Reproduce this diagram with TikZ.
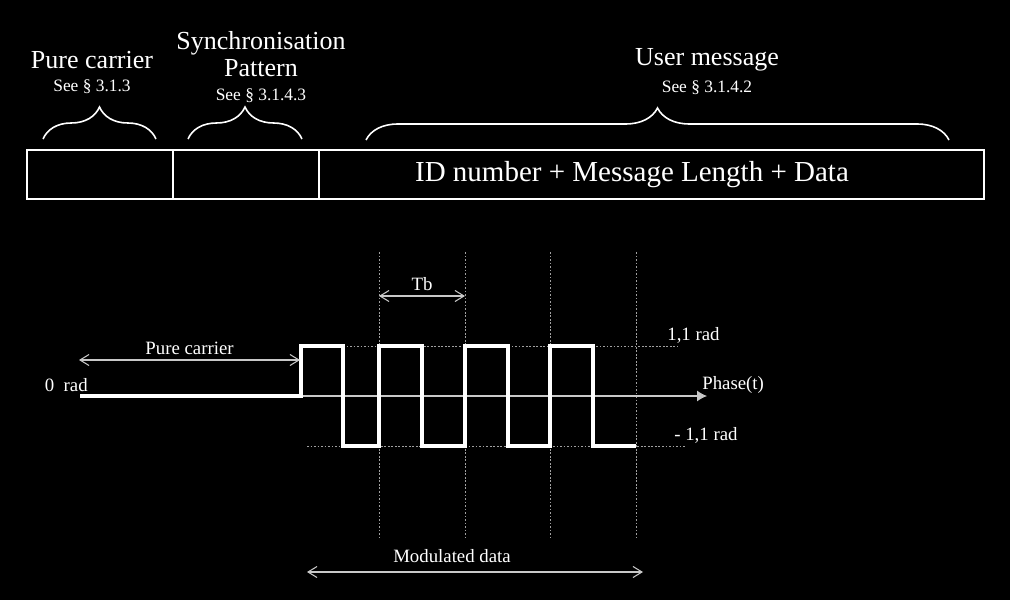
\documentclass[tikz,border=0pt]{standalone}
\usepackage{fontspec}
\setmainfont{Liberation Serif}
\usetikzlibrary{arrows.meta}
\usetikzlibrary{decorations.pathreplacing}
\definecolor{lgray}{RGB}{200,200,200}
\tikzset{cell/.style={draw=white, line width=1.1pt, anchor=north west, minimum height=9.8mm, inner sep=0pt}}
\tikzset{brc/.style={white, line width=0.9pt, decorate, decoration={brace, amplitude=6.4mm}}}
\tikzset{head/.style={white, inner sep=0pt, font=\fontsize{14.8}{16}\selectfont}}
\tikzset{ref/.style={white, inner sep=0pt, font=\fontsize{9.9}{11}\selectfont}}
\tikzset{lbl/.style={white, inner sep=0pt, font=\fontsize{10.7}{12}\selectfont}}
\tikzset{dim/.style={draw=lgray, line width=0.6pt, {Straight Barb[length=1.8mm,width=2.2mm]}-{Straight Barb[length=1.8mm,width=2.2mm]}}}
\tikzset{grid/.style={draw=lgray!80!black, line width=0.5pt, dash pattern=on 1pt off 1pt}}
\tikzset{sig/.style={white, line width=2.3pt, line join=miter}}
\begin{document}
\begin{tikzpicture}[x=0.2mm, y=-0.2mm]
    \fill[black] (0,0) rectangle (1010,600);
    \useasboundingbox (0,0) rectangle (1010,600);
    %Frame
    \node[cell, minimum width=29.2mm] (c1) at (26,149) {};
    \node[cell, minimum width=29.2mm] (c2) at (172,149) {};
    \node[cell, minimum width=133mm] (c3) at (318,149) {};
    \node[white, font=\fontsize{16.5}{18}\selectfont] (idtxt) at (632,175) {ID number + Message Length + Data};
    %Braces
    \draw[brc] (43,139) -- (156,139);
    \draw[brc] (188,139) -- (302,139);
    \draw[brc] (366,140) -- (949,140);
    \node[head] (pc) at (92,60) {Pure carrier};
    \node[ref] (pcref) at (92,87) {See § 3.1.3};
    \node[head] (sync) at (261,43) {Synchronisation};
    \node[head] (pat) at (261,68) {Pattern};
    \node[ref] (syncref) at (261,96) {See § 3.1.4.3};
    \node[head] (um) at (707,60) {User message};
    \node[ref] (umref) at (707,88) {See § 3.1.4.2};
    %Phase
    \foreach \x in {379,465,550,636}
        \draw[grid] (\x,252) -- (\x,537);
    \draw[grid] (343,346) -- (677,346);
    \draw[grid] (307,446) -- (685,446);
    \coordinate (o) at (80,396);
    \coordinate (ph) at (707,396);
    \draw[draw=lgray, line width=0.6pt, -{Latex[length=2mm,width=2.2mm]}] (o) -- (ph);
    \draw[sig] (o) -- (301,396) -- (301,346) -- (343,346) -- (343,446) -- (379,446)
        -- (379,346) -- (422,346) -- (422,446) -- (465,446) -- (465,346) -- (508,346)
        -- (508,446) -- (550,446) -- (550,346) -- (593,346) -- (593,446) -- (636,446);
    \node[lbl, anchor=east] (zero) at (88,385) {0~~rad};
    \node[lbl, anchor=west] (hi) at (667,335) {1,1 rad};
    \node[lbl, anchor=west] (lo) at (674,435) {- 1,1 rad};
    \node[lbl, anchor=west] (phase) at (702,385) {Phase(t)};
    %Dimensions
    \coordinate (pa) at (79,360);
    \coordinate (pb) at (300,360);
    \draw[dim] (pa) -- (pb) node[lbl, midway, above=3pt] (pclbl) {Pure carrier};
    \coordinate (ta) at (379,296);
    \coordinate (tb) at (465,296);
    \draw[dim] (ta) -- (tb) node[lbl, midway, above=3pt] (tblbl) {Tb};
    \coordinate (ma) at (307,572);
    \coordinate (mb) at (643,572);
    \draw[dim] (ma) -- (mb) node[lbl, midway, above=5pt, xshift=-4.6mm] (mdlbl) {Modulated data};
\end{tikzpicture}
\end{document}
